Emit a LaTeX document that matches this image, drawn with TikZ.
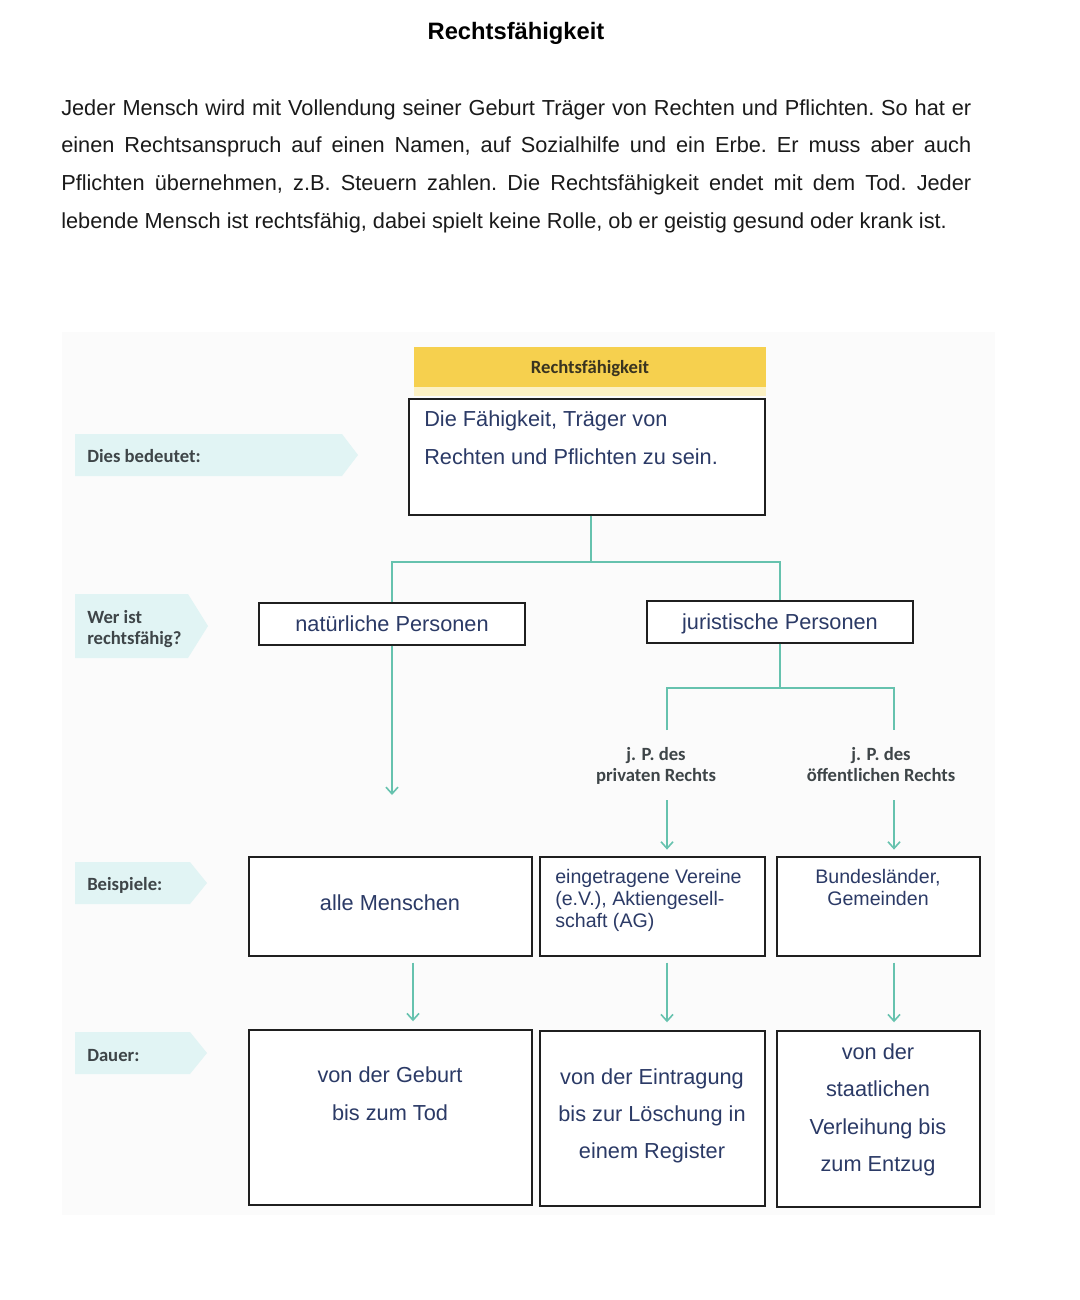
\documentclass[tikz,border=0pt]{standalone}
\usepackage{fontspec}
\setmainfont{Liberation Sans}
\newfontfamily\calfont{Carlito}
\usetikzlibrary{arrows.meta}
\definecolor{tealline}{HTML}{66C2AE}
\definecolor{boxtext}{HTML}{2B3A66}
\definecolor{lblfill}{HTML}{E1F4F4}
\definecolor{lbltext}{HTML}{3E4548}
\definecolor{gold}{HTML}{F6D04E}
\definecolor{paleyellow}{HTML}{FCF1C4}
\definecolor{panel}{HTML}{FBFBFB}
\definecolor{frame}{HTML}{1F1F1F}
\definecolor{bodytext}{HTML}{1A1A1A}
\begin{document}
\begin{tikzpicture}[x=0.75pt,y=-0.75pt,
  box/.style={draw=frame, line width=1.1pt, inner sep=0pt, fill=white, text=boxtext,
    text height=12pt, text depth=0.3pt, font=\fontsize{16.3}{28}\selectfont},
  btext/.style={text=boxtext, inner sep=0pt, align=center, font=\fontsize{16.3}{28}\selectfont},
  stext/.style={text=boxtext, inner sep=0pt, font=\fontsize{14.7}{16.5}\selectfont},
  lbl/.style={text=lbltext, inner sep=0pt, align=left, anchor=west, font=\calfont\bfseries\fontsize{14}{16}\selectfont},
  jplbl/.style={text=lbltext, inner sep=0pt, align=center, font=\calfont\bfseries\fontsize{14}{16}\selectfont},
  tree/.style={draw=tealline, line width=2pt},
  arr/.style={draw=tealline, line width=1.2pt, -{Straight Barb[length=5pt,width=9pt,line width=1.2pt]}},
  lblbg/.style={fill=lblfill},
]
\useasboundingbox (0,0) rectangle (1080,1300);
\fill[white] (0,0) rectangle (1080,1300);
\fill[panel] (62,332) rectangle (995,1215);

% title and paragraph
\node[anchor=base, inner sep=0pt, font=\bfseries\fontsize{17.8}{20}\selectfont] (title) at (516,39.5) {Rechtsfähigkeit};
\node[anchor=north west, inner sep=0pt, text width=682.5pt, align=justify, text=bodytext,
  font=\fontsize{16.3}{28.3}\selectfont] (para) at (61,88.4)
  {\frenchspacing\hyphenpenalty=10000\relax\exhyphenpenalty=10000\relax
   \spaceskip=0.278em plus 0.3em minus 0.12em\relax
   \strut Jeder Mensch wird mit Vollendung seiner Geburt Träger von Rechten und Pflichten. So hat er\linebreak{} einen Rechtsanspruch auf einen Namen, auf Sozialhilfe und ein Erbe. Er muss aber auch\linebreak{} Pflichten übernehmen, z.B. Steuern zahlen. Die Rechtsfähigkeit endet mit dem Tod. Jeder\linebreak{} lebende Mensch ist rechtsfähig, dabei spielt keine Rolle, ob er geistig gesund oder krank ist.};

% left labels
\fill[lblbg] (75,434) -- (342,434) -- (358,455) -- (342,476) -- (75,476) -- cycle;
\fill[lblbg] (75,594) -- (188,594) -- (208,626) -- (188,658) -- (75,658) -- cycle;
\fill[lblbg] (75,862) -- (190,862) -- (207,883) -- (190,904) -- (75,904) -- cycle;
\fill[lblbg] (75,1032) -- (190,1032) -- (207,1053) -- (190,1074) -- (75,1074) -- cycle;
\node[lbl] (l1) at (87,458) {\strut Dies bedeutet:};
\node[lbl] (l2) at (87,630) {\strut Wer ist\\\strut rechtsfähig?};
\node[lbl] (l3) at (87,886) {\strut Beispiele:};
\node[lbl] (l4) at (87,1057) {\strut Dauer:};

% header and definition
\fill[paleyellow] (414,386) rectangle (766,396);
\node[fill=gold, inner sep=0pt, minimum width=264pt, minimum height=30pt,
  text={rgb,255:red,58;green,52;blue,32}, text height=10pt, text depth=1pt,
  font=\calfont\bfseries\fontsize{14}{16}\selectfont] (head) at (590,367) {Rechtsfähigkeit};
\node[box, minimum width=267pt, minimum height=87pt] (def) at (587,457) {};
\node[btext, anchor=west, align=left] (deft) at (424,438) {\strut Die Fähigkeit, Träger von\\\strut Rechten und Pflichten zu sein.};

% persons
\node[box, minimum width=199.5pt, minimum height=31.5pt] (nat) at (392,624) {natürliche Personen};
\node[box, minimum width=199.5pt, minimum height=31.5pt] (jur) at (780,622) {juristische Personen};

% tree 1
\coordinate (stem) at (591,562);
\draw[tree] (def.south -| stem) -- (stem);
\draw[tree] (nat.north) |- (stem) -| (jur.north);

% natural arrow
\coordinate (natend) at (392,795);
\draw[tree, -{Straight Barb[length=5pt,width=9pt,line width=1.2pt]}] (nat.south) -- (natend);

% tree 2
\coordinate (stem2) at (780,688);
\coordinate (jp1top) at (667,730);
\coordinate (jp2top) at (894,730);
\draw[tree] (jur.south) -- (stem2);
\draw[tree] (jp1top) |- (stem2) -| (jp2top);

\node[jplbl] (jp1) at (656,767) {\strut j. P. des\\\strut privaten Rechts};
\node[jplbl] (jp2) at (881,767) {\strut j. P. des\\\strut öffentlichen Rechts};

% example boxes
\node[box, minimum width=212.25pt, minimum height=74.25pt] (ex1) at (390.5,906.5) {};
\node[btext] (ex1t) at (390,903) {\strut alle Menschen};
\node[box, minimum width=168.75pt, minimum height=74.25pt] (ex2) at (652.5,906.5) {};
\node[box, minimum width=152.25pt, minimum height=74.25pt] (ex3) at (878.5,906.5) {};
\node[stext, anchor=west, align=left] (ex2t) at (555,901) {\strut eingetragene Vereine\\\strut (e.V.), Aktiengesell-\\\strut schaft (AG)};
\node[stext, align=center] (ex3t) at (878,890.5) {\strut Bundesländer,\\\strut Gemeinden};

% arrows to examples
\coordinate (a1) at (667,800);
\coordinate (a2) at (894,800);
\draw[arr, shorten >=5pt] (a1) -- (a1 |- ex2.north);
\draw[arr, shorten >=5pt] (a2) -- (a2 |- ex3.north);

% duration boxes
\node[box, minimum width=212.25pt, minimum height=131.25pt] (du1) at (390.5,1117.5) {};
\node[box, minimum width=168.75pt, minimum height=131.25pt] (du2) at (652.5,1118.5) {};
\node[box, minimum width=152.25pt, minimum height=132pt] (du3) at (878.5,1119) {};
\node[btext] (du1t) at (390,1094) {\strut von der Geburt\\\strut bis zum Tod};
\node[btext] (du2t) at (652,1114) {\strut von der Eintragung\\\strut bis zur Löschung in\\\strut einem Register};
\node[btext] (du3t) at (878,1108) {\strut von der\\\strut staatlichen\\\strut Verleihung bis\\\strut zum Entzug};

% arrows examples -> duration
\coordinate (c1) at (413,0);
\coordinate (c2) at (667,0);
\coordinate (c3) at (894,0);
\draw[arr, shorten <=4.5pt, shorten >=6pt] (ex1.south -| c1) -- (du1.north -| c1);
\draw[arr, shorten <=4.5pt, shorten >=6pt] (ex2.south -| c2) -- (du2.north -| c2);
\draw[arr, shorten <=4.5pt, shorten >=6pt] (ex3.south -| c3) -- (du3.north -| c3);
\end{tikzpicture}
\end{document}
